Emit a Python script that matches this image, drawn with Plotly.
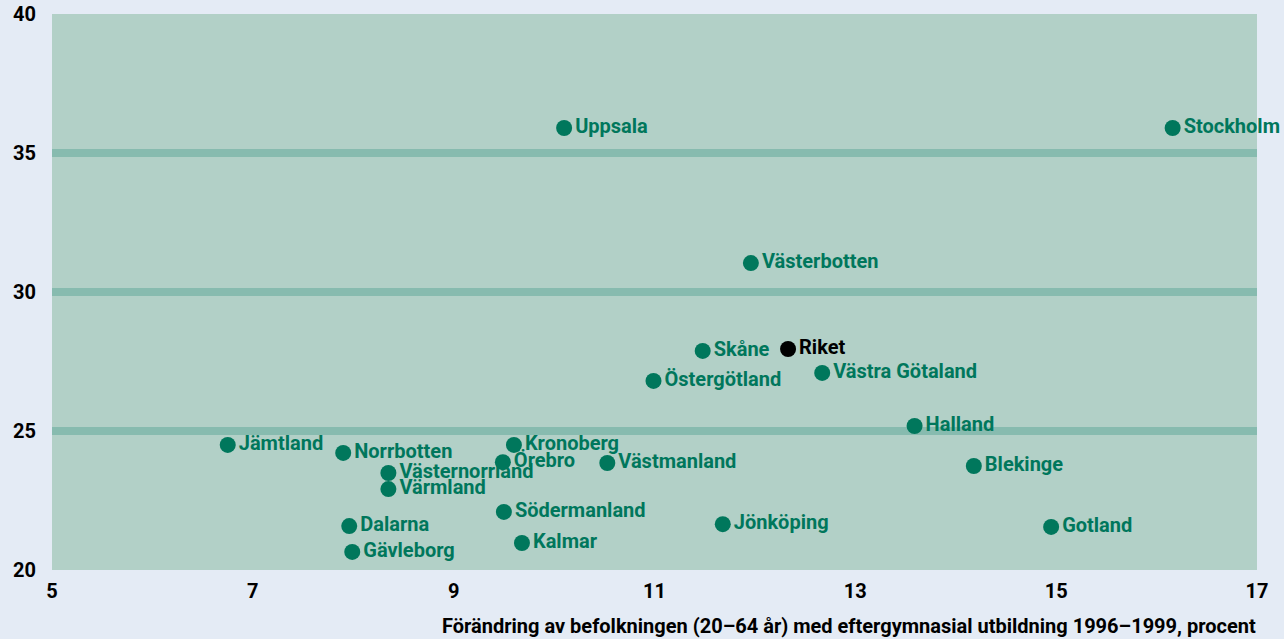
import plotly.graph_objects as go

regions = ["Uppsala", "Stockholm", "Västerbotten", "Skåne", "Östergötland",
           "Västra Götaland", "Halland", "Jämtland", "Norrbotten", "Kronoberg",
           "Örebro", "Västmanland", "Västernorrland", "Värmland", "Blekinge",
           "Södermanland", "Jönköping", "Gotland", "Dalarna", "Kalmar", "Gävleborg"]
change = [10.10, 16.16, 11.96, 11.48, 10.99, 12.67, 13.59, 6.75, 7.90, 9.60,
          9.49, 10.53, 8.35, 8.35, 14.18, 9.50, 11.68, 14.95, 7.96, 9.68, 7.99]
share = [35.90, 35.90, 31.04, 27.88, 26.80, 27.09, 25.18, 24.50, 24.21, 24.50,
         23.88, 23.85, 23.49, 22.91, 23.74, 22.09, 21.65, 21.55, 21.58, 20.97, 20.65]

riket_name = ["Riket"]
riket_change = [12.33]
riket_share = [27.95]

x_ticks = [5, 7, 9, 11, 13, 15, 17]
y_ticks = [20, 25, 30, 35, 40]
grid_levels = [25, 30, 35]

GREEN = "#00775c"
FONT = "Roboto, sans-serif"

fig = go.Figure()
fig.add_trace(go.Scatter(
    x=change, y=share, text=regions, mode="markers+text",
    textposition="middle right",
    marker=dict(size=16, color=GREEN),
    textfont=dict(family=FONT, size=20, color=GREEN, weight="bold"),
    cliponaxis=False, showlegend=False, hoverinfo="text"))
fig.add_trace(go.Scatter(
    x=riket_change, y=riket_share, text=riket_name, mode="markers+text",
    textposition="middle right",
    marker=dict(size=16, color="#000000"),
    textfont=dict(family=FONT, size=20, color="#000000", weight="bold"),
    cliponaxis=False, showlegend=False, hoverinfo="text"))

for g in grid_levels:
    fig.add_shape(type="line", xref="paper", yref="y", x0=0, x1=1, y0=g, y1=g,
                  line=dict(color="#87bbaf", width=8), layer="below")

fig.update_layout(
    width=1284, height=639,
    margin=dict(l=52, r=27, t=14, b=69, autoexpand=False),
    paper_bgcolor="#e4ebf5", plot_bgcolor="#b2d0c7",
    font=dict(family=FONT, color="#000000"),
    xaxis=dict(range=[5, 17], tickvals=x_ticks, showgrid=False, zeroline=False,
               showline=False, ticks="outside", ticklen=3, tickcolor="rgba(0,0,0,0)",
               automargin=False,
               tickfont=dict(family=FONT, size=20, color="#000000", weight="bold")),
    yaxis=dict(range=[20, 40], tickvals=y_ticks, showgrid=False, zeroline=False,
               showline=False, ticks="outside", ticklen=11, tickcolor="rgba(0,0,0,0)",
               automargin=False,
               tickfont=dict(family=FONT, size=20, color="#000000", weight="bold")),
    annotations=[dict(
        text="Förändring av befolkningen (20–64 år) med eftergymnasial utbildning 1996–1999, procent",
        xref="paper", yref="paper", x=1.001, y=-0.1, xanchor="right", yanchor="middle",
        showarrow=False, font=dict(family=FONT, size=20, color="#000000", weight="bold"))]
)

fig.write_html("out.html", config={"displayModeBar": False},
               post_script="document.body.style.margin='0';document.body.style.overflow='hidden';")
